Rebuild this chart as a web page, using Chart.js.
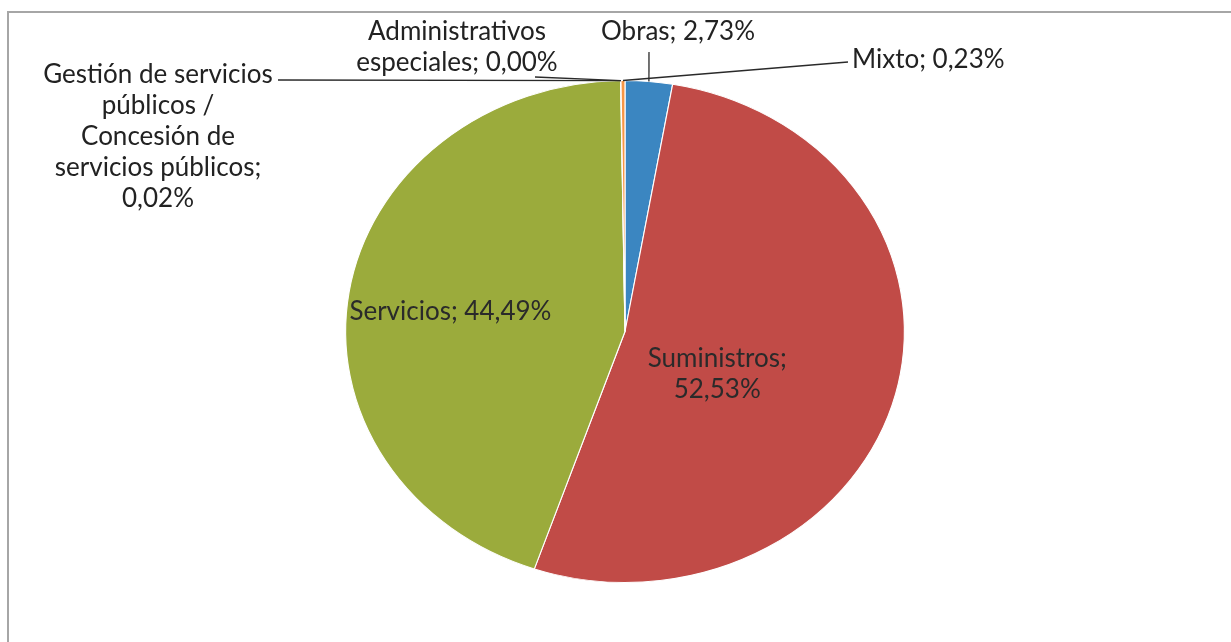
<!DOCTYPE html>
<html>
<head>
<meta charset="utf-8">
<script src="https://cdn.jsdelivr.net/npm/chart.js@4"></script>
<style>
  html, body { margin: 0; padding: 0; background: #fff; overflow: hidden; }
  #wrap { position: relative; width: 1231px; height: 642px; }
  #frame { position: absolute; left: 7px; top: 11px; width: 1300px; height: 700px;
           border-left: 2px solid #a6a6a6; border-top: 2px solid #a6a6a6; }
  canvas { position: absolute; left: 0; top: 0; }
</style>
</head>
<body>
<div id="wrap">
  <div id="frame"></div>
  <canvas id="chart" width="1231" height="642"></canvas>
</div>
<script>
// Chart data (percent of total)
const categories = [
  'Obras',
  'Suministros',
  'Servicios',
  'Gestión de servicios públicos / Concesión de servicios públicos',
  'Administrativos especiales',
  'Mixto'
];
const values = [2.73, 52.53, 44.49, 0.02, 0.00, 0.23];
const valueLabels = ['2,73%', '52,53%', '44,49%', '0,02%', '0,00%', '0,23%'];

// label text lines as printed on the chart
const labelLines = [
  ['Obras; 2,73%'],
  ['Suministros;', '52,53%'],
  ['Servicios; 44,49%'],
  ['Gestión de servicios', 'públicos /', 'Concesión de', 'servicios públicos;', '0,02%'],
  ['Administrativos', 'especiales; 0,00%'],
  ['Mixto; 0,23%']
];

const colors = ['#3b86c1', '#c14b47', '#9bab3c', '#8064a2', '#4bacc6', '#f79646'];

// the scanned pie is slightly wider than tall
const xStretch = 1.113;
const FONT = '26px Lato';
const LINE_H = 31;

// outside label placement: text anchor, alignment, leader end point
const outside = {
  0: { x: 678, y: 32, align: 'center', lead: [[649, 52]] },
  3: { x: 158, y: 75, align: 'center', lead: [[278, 80]] },
  4: { x: 457, y: 32, align: 'center', lead: [[535, 77]] },
  5: { x: 852, y: 60, align: 'left', lead: [[848, 62]] }
};
// inside label centres, as fractions of the radius from the pie centre
const inside = { 1: [0.33, 0.17], 2: [-0.625, -0.08] };

const stretchPlugin = {
  id: 'stretch',
  beforeDatasetsDraw(chart) {
    const arc = chart.getDatasetMeta(0).data[0];
    const ctx = chart.ctx;
    ctx.save();
    ctx.translate(arc.x, arc.y);
    ctx.scale(xStretch, 1);
    ctx.translate(-arc.x, -arc.y);
  },
  afterDatasetsDraw(chart) {
    chart.ctx.restore();
  }
};

const labelPlugin = {
  id: 'pieLabels',
  afterDraw(chart) {
    const ctx = chart.ctx;
    const arcs = chart.getDatasetMeta(0).data;
    ctx.save();
    ctx.font = FONT;
    ctx.textBaseline = 'middle';
    arcs.forEach((arc, i) => {
      const mid = (arc.startAngle + arc.endAngle) / 2;
      const lines = labelLines[i];
      if (inside[i] !== undefined) {
        const cx = arc.x + inside[i][0] * arc.outerRadius * xStretch;
        const cy = arc.y + inside[i][1] * arc.outerRadius;
        ctx.fillStyle = '#2a2a2a';
        ctx.textAlign = 'center';
        const top = cy - (lines.length - 1) * LINE_H / 2;
        lines.forEach((t, k) => ctx.fillText(t, cx, top + k * LINE_H));
        return;
      }
      const o = outside[i];
      const ax = arc.x + Math.cos(mid) * arc.outerRadius * xStretch;
      const ay = arc.y + Math.sin(mid) * arc.outerRadius;
      // leader line
      ctx.strokeStyle = '#2a2a2a';
      ctx.lineWidth = 1.3;
      ctx.beginPath();
      ctx.moveTo(ax, ay);
      o.lead.forEach(p => ctx.lineTo(p[0], p[1]));
      ctx.stroke();
      ctx.fillStyle = '#222';
      ctx.textAlign = o.align;
      lines.forEach((t, k) => ctx.fillText(t, o.x, o.y + k * LINE_H));
    });
    ctx.restore();
  }
};

new Chart(document.getElementById('chart'), {
  type: 'pie',
  data: {
    labels: categories,
    datasets: [{
      data: values,
      backgroundColor: colors,
      borderColor: '#ffffff',
      borderWidth: 1
    }]
  },
  options: {
    responsive: false,
    animation: false,
    layout: { padding: { top: 80, bottom: 59, left: 19, right: 0 } },
    plugins: {
      legend: { display: false },
      tooltip: { enabled: false }
    }
  },
  plugins: [stretchPlugin, labelPlugin]
});
</script>
</body>
</html>
